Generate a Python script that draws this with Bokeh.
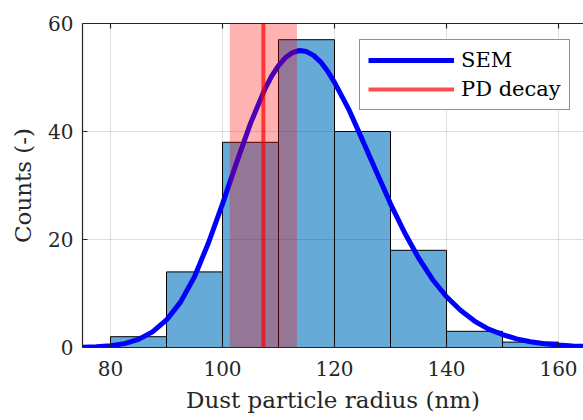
from bokeh.plotting import figure
from bokeh.models import Range1d, LinearAxis, FixedTicker, Legend, LegendItem
from bokeh.embed import file_html
from bokeh.resources import INLINE

# ---- data ----
bin_edges = [80, 90, 100, 110, 120, 130, 140, 150, 160]
counts = [2, 14, 38, 57, 40, 18, 3, 1]

sem_x = [75, 77.5, 80, 82.5, 85, 87.5, 90, 92.5, 95, 97.5, 100, 102.5, 105,
         107.5, 108.75, 110, 111.25, 112.5, 113.75, 115, 116.25, 117.5, 118.75,
         120, 122.5, 125, 127.5, 130, 132.5, 135, 137.5, 140, 142.5, 145,
         147.5, 150, 152.5, 155, 157.5, 160, 162.5, 165]
sem_y = [0.05, 0.12, 0.32, 0.72, 1.5, 2.9, 5.1, 8.4, 13.1, 19.4, 26.6, 34.2, 41.5,
         47.7, 50.2, 52.2, 53.7, 54.6, 55.0, 54.8, 54.1, 52.9, 51.2,
         49.1, 44.2, 38.4, 32.5, 26.6, 21.3, 16.6, 12.6, 9.4, 6.9, 4.9,
         3.4, 2.4, 1.6, 1.07, 0.71, 0.46, 0.29, 0.19]

pd_center = 107.3
pd_halfwidth = 6.0

x_ticks = [80, 100, 120, 140, 160]
y_ticks = [0, 20, 40, 60]
x_lim = (75, 164.46)
y_lim = (0, 60)

FONT = "DejaVu Serif"
AX = "#262626"

p = figure(width=583, height=420, output_backend="svg", toolbar_location=None,
           x_range=Range1d(*x_lim), y_range=Range1d(*y_lim),
           min_border_left=82, min_border_right=0, min_border_top=23,
           min_border_bottom=73,
           x_axis_label="Dust particle radius (nm)", y_axis_label="Counts (-)")
p.outline_line_color = None
p.background_fill_color = "white"
p.border_fill_color = "white"

# histogram
p.quad(left=bin_edges[:-1], right=bin_edges[1:], bottom=0, top=counts,
       fill_color="#0072BD", fill_alpha=0.6, line_color="black", line_width=1)
# SEM fit
sem = p.line(sem_x, sem_y, line_color="#0000FF", line_width=5)
# PD band and line
p.quad(left=[pd_center - pd_halfwidth], right=[pd_center + pd_halfwidth],
       bottom=[y_lim[0]], top=[y_lim[1]], fill_color="#FF0000", fill_alpha=0.3,
       line_color=None)
pd = p.segment(x0=[pd_center], y0=[y_lim[0]], x1=[pd_center], y1=[y_lim[1]],
               line_color="#FF0000", line_alpha=0.7, line_width=4)

# grids
for g, t in ((p.xgrid, x_ticks), (p.ygrid, y_ticks)):
    g.ticker = FixedTicker(ticks=t)
    g.grid_line_color = AX
    g.grid_line_alpha = 0.15
    g.level = "guide"

# axes
def style_axis(ax, ticks):
    ax.ticker = FixedTicker(ticks=ticks)
    ax.major_tick_in = 5
    ax.major_tick_out = 0
    ax.minor_tick_line_color = None
    ax.axis_line_color = AX
    ax.axis_line_width = 1.2
    ax.major_tick_line_color = AX
    ax.major_tick_line_width = 1.2
    ax.major_label_text_font = FONT
    ax.major_label_text_font_size = "20px"
    ax.major_label_text_color = AX
    ax.axis_label_text_font = FONT
    ax.axis_label_text_font_size = "23px"
    ax.axis_label_text_font_style = "normal"
    ax.axis_label_text_color = AX

style_axis(p.xaxis[0], x_ticks)
style_axis(p.yaxis[0], y_ticks)
p.xaxis[0].major_label_standoff = 13
p.xaxis[0].axis_label_standoff = 8
p.yaxis[0].major_label_standoff = 9
p.yaxis[0].axis_label_standoff = 9

top = LinearAxis()
style_axis(top, x_ticks)
top.major_label_text_color = None
top.major_label_text_font_size = "1px"
top.major_label_standoff = 0
p.add_layout(top, "above")

legend = Legend(items=[LegendItem(label="SEM", renderers=[sem]),
                       LegendItem(label="PD decay", renderers=[pd])],
                location=(277, 237))
legend.border_line_color = AX
legend.border_line_width = 1
legend.background_fill_color = "white"
legend.background_fill_alpha = 1
legend.label_text_font = FONT
legend.label_text_font_size = "21px"
legend.label_text_color = "#000000"
legend.glyph_width = 86
legend.glyph_height = 22
legend.label_height = 22
legend.label_standoff = 7
legend.padding = 8
legend.spacing = 5
legend.margin = 0
p.add_layout(legend)

open("out.html", "w").write(file_html(p, INLINE))
